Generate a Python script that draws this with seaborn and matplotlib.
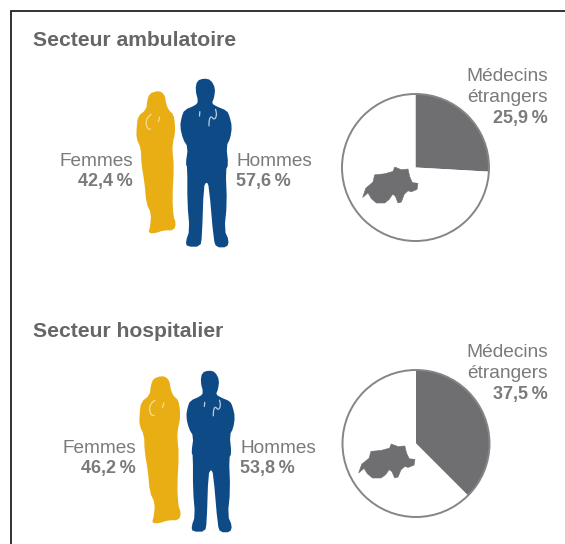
import numpy as np
import seaborn as sns
from matplotlib import pyplot as plt
from matplotlib.patches import Circle, Polygon

sectors = ['Secteur ambulatoire', 'Secteur hospitalier']
femmes = ['42,4\u2009%', '46,2\u2009%']
hommes = ['57,6\u2009%', '53,8\u2009%']
etrangers = [25.9, 37.5]
etrangers_labels = ['25,9\u2009%', '37,5\u2009%']

YELLOW = '#e9ae14'
BLUE = '#0e4a86'
GREY = '#6f6f71'
TEXT = '#7a7a7d'

# rough outlines of the pictograms, only the shape matters
woman_shape = [(110, 62), (125, 65), (135, 78), (138, 100), (146, 120), (160, 132), (165, 160), (165, 190),
               (159, 215), (157, 240), (162, 290), (157, 380), (160, 440), (168, 460), (162, 482), (130, 482),
               (105, 491), (84, 490), (90, 470), (93, 432), (78, 400), (73, 340), (63, 280), (62, 235),
               (48, 205), (49, 170), (53, 138), (78, 118), (81, 90), (88, 70)]
man_shape = [(252, 25), (272, 30), (285, 55), (281, 85), (274, 100), (290, 110), (320, 122), (328, 140), (335, 170),
             (330, 205), (318, 228), (324, 285), (316, 300), (320, 400), (312, 480), (326, 512), (320, 532),
             (288, 532), (280, 510), (266, 350), (259, 335), (250, 350), (245, 500), (240, 530), (200, 530), (196, 515),
             (208, 480), (201, 400), (201, 292), (196, 282), (203, 232), (188, 208), (179, 170), (184, 140), (192, 120),
             (225, 106), (234, 95), (225, 60), (230, 32)]
swiss_shape = [(99, 412), (108, 385), (130, 366), (135, 345), (165, 342), (190, 335), (195, 322), (215, 330),
               (235, 328), (240, 350), (248, 368), (265, 370), (262, 388), (245, 395), (235, 392), (224, 402),
               (215, 425), (205, 428), (197, 408), (189, 402), (178, 418), (165, 428), (140, 428), (125, 415), (115, 398)]
woman_scope = [[(125, 120), (108, 175)], [(100, 128), (82, 140), (76, 160), (84, 178), (95, 176)]]
man_scope = [[(240, 105), (236, 158)], [(283, 108), (290, 135), (282, 150), (272, 138), (266, 150), (266, 178)]]

sns.set_theme(style='white')
plt.rcParams['font.family'] = ['Liberation Sans', 'DejaVu Sans']

W, H = 565, 544
fig = plt.figure(figsize=(W / 100, H / 100), dpi=100, facecolor='white')


def smooth(pts, closed=True, n=1):
    # chaikin corner cutting so the outlines are not angular
    pts = np.array(pts, dtype=float)
    for _ in range(n):
        nxt = np.roll(pts, -1, axis=0) if closed else pts[1:]
        cur = pts if closed else pts[:-1]
        q = 0.75 * cur + 0.25 * nxt
        r = 0.25 * cur + 0.75 * nxt
        new = np.empty((len(cur) * 2, 2))
        new[0::2] = q
        new[1::2] = r
        pts = new
    return pts


def fit(shape, box, src):
    # map outline from its own box to a pixel box on the canvas
    pts = np.array(shape, dtype=float)
    x0, x1, y0, y1 = src
    bx0, bx1, by0, by1 = box
    pts[:, 0] = bx0 + (pts[:, 0] - x0) / (x1 - x0) * (bx1 - bx0)
    pts[:, 1] = by0 + (pts[:, 1] - y0) / (y1 - y0) * (by1 - by0)
    return pts


def draw_pie(cx, cy, r, value):
    pie_ax = fig.add_axes([(cx - r - 2) / W, 1 - (cy + r + 2) / H, (2 * r + 4) / W, (2 * r + 4) / H])
    pie_ax.pie([value, 100 - value], colors=[GREY, 'white'], startangle=90, counterclock=False, radius=1,
               wedgeprops={'linewidth': 0})
    pie_ax.add_patch(Circle((0, 0), 1, fill=False, edgecolor='#858588', linewidth=1.4))
    pie_ax.set_xlim(-(r + 2) / r, (r + 2) / r)
    pie_ax.set_ylim(-(r + 2) / r, (r + 2) / r)


draw_pie(415.5, 167.5, 73.5, etrangers[0])
draw_pie(416, 443.5, 73.5, etrangers[1])

ax = fig.add_axes([0, 0, 1, 1])
ax.set_xlim(0, W)
ax.set_ylim(H, 0)
ax.axis('off')
ax.patch.set_alpha(0)

# frame is open on the right and at the bottom
ax.plot([11, 11, W], [H, 10.5, 10.5], color='#222222', lw=1.3, solid_joinstyle='miter')

woman_src = (50, 165, 62, 490)
man_src = (182, 332, 27, 528)
swiss_src = (100, 265, 322, 428)
boxes = [
    {'woman': (137, 175, 91, 233), 'man': (181, 231, 79, 246), 'swiss': (363, 418, 167, 203)},
    {'woman': (140, 180, 376, 523), 'man': (187, 234, 371, 531), 'swiss': (359, 415, 444, 478)},
]
title_base = [46, 337]
left_x = [133, 136]
right_x = [236, 240]
label_base = [166, 453]

for i, b in enumerate(boxes):
    ax.text(33, title_base[i], sectors[i], fontsize=15.2, fontweight='bold', color='#666668', va='baseline')
    ax.add_patch(Polygon(fit(smooth(woman_shape), b['woman'], woman_src), closed=True, facecolor=YELLOW, edgecolor='none'))
    ax.add_patch(Polygon(fit(smooth(man_shape), b['man'], man_src), closed=True, facecolor=BLUE, edgecolor='none'))
    ax.add_patch(Polygon(fit(swiss_shape, b['swiss'], swiss_src), closed=True, facecolor=GREY, edgecolor=GREY, lw=0.4))
    for line in woman_scope:
        pts = fit(smooth(line, closed=False, n=2), b['woman'], woman_src)
        ax.plot(pts[:, 0], pts[:, 1], color='#f6dc98', lw=0.9)
    for line in man_scope:
        pts = fit(smooth(line, closed=False, n=2), b['man'], man_src)
        ax.plot(pts[:, 0], pts[:, 1], color='#b9cde0', lw=0.9)

    ax.text(left_x[i], label_base[i], 'Femmes', fontsize=13.7, color=TEXT, ha='right', va='baseline')
    ax.text(left_x[i], label_base[i] + 20, femmes[i], fontsize=13, fontweight='bold', color=TEXT, ha='right', va='baseline')
    ax.text(right_x[i], label_base[i], 'Hommes', fontsize=13.7, color=TEXT, ha='left', va='baseline')
    ax.text(right_x[i], label_base[i] + 20, hommes[i], fontsize=13, fontweight='bold', color=TEXT, ha='left', va='baseline')

    top = [81, 357][i]
    ax.text(548, top, 'Médecins', fontsize=13.8, color=TEXT, ha='right', va='baseline')
    ax.text(548, top + 21, 'étrangers', fontsize=13.8, color=TEXT, ha='right', va='baseline')
    ax.text(548, top + 42, etrangers_labels[i], fontsize=13, fontweight='bold', color=TEXT, ha='right', va='baseline')

fig.savefig('out.png', dpi=100)
